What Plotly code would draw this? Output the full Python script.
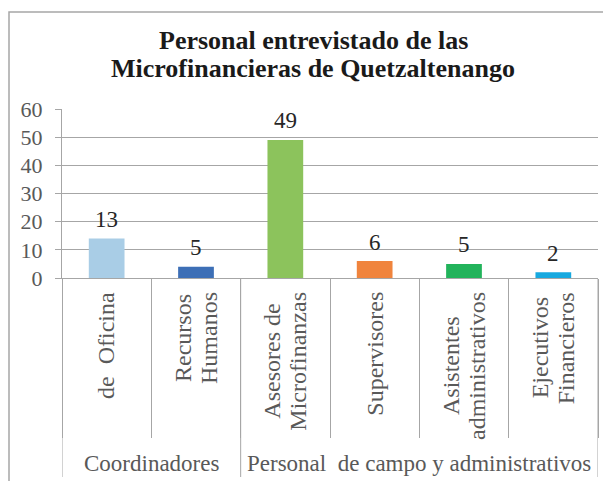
import plotly.graph_objects as go

# ---- data ----
group_names = ["Coordinadores", "Personal\u00a0 de campo y administrativos"]
category_group = [0, 0, 1, 1, 1, 1]
categories = [
    "de\u00a0 Oficina",
    "Recursos<br>Humanos",
    "Asesores de<br>Microfinanzas",
    "Supervisores",
    "Asistentes<br>administrativos",
    "Ejecutivos<br>Financieros",
]
bar_heights = [14, 4, 49, 6, 5, 2]
data_labels = ["13", "5", "49", "6", "5", "2"]
bar_colors = ["#A9CDE6", "#3D6FB6", "#8CC35C", "#F0843D", "#22B35B", "#17A9E0"]
y_ticks = [0, 10, 20, 30, 40, 50, 60]
title_lines = ["Personal entrevistado de las", "Microfinancieras de Quetzaltenango"]

# ---- layout geometry (page body has an 8px margin) ----
OFF = 8
W, H = 611 - OFF, 481 - OFF
PL, PR, PT, PB = 62, 598, 109, 278      # plot area in window pixels
L, T = PL - OFF, PT - OFF
R, B = 611 - PR, 481 - PB
PW, PH = PR - PL, PB - PT


def ppy(py):
    return (PB - py) / PH


def ppx(px):
    return (px - PL) / PW


# approximate Times/Liberation Serif advance widths (per 1000 em)
_TW = dict(a=444, b=500, c=444, d=500, e=444, f=333, g=500, h=500, i=278, j=278,
           k=500, l=278, m=778, n=500, o=500, p=500, q=500, r=333, s=389, t=278,
           u=500, v=500, w=722, x=500, y=500, z=444, A=722, E=611, F=556, H=722,
           M=889, O=722, R=667, S=556, C=667, P=556)


def text_len(s, size):
    return sum(_TW.get(ch, 250) for ch in s) * size / 1000.0


SERIF = "Liberation Serif"
GRID = "#A6A6A6"
TXT = "#595959"
CAT_SIZE = 24
CAT_LINE = 26

xkeys = list(range(len(categories)))

fig = go.Figure(
    go.Bar(
        x=xkeys,
        y=bar_heights,
        marker=dict(color=bar_colors, line=dict(width=0)),
        hoverinfo="skip",
    )
)

fig.update_layout(
    width=W,
    height=H,
    margin=dict(l=L, r=R, t=T, b=B, pad=0, autoexpand=False),
    paper_bgcolor="white",
    plot_bgcolor="white",
    bargap=0.6,
    showlegend=False,
    font=dict(family=SERIF),
)

fig.update_xaxes(
    type="linear",
    range=[-0.5, len(categories) - 0.5],
    tickmode="array",
    tickvals=[i - 0.5 for i in range(len(categories) + 1)],
    showticklabels=False,
    ticks="outside",
    ticklen=159,
    tickcolor=GRID,
    tickwidth=1,
    showline=True,
    linecolor=GRID,
    linewidth=1,
    showgrid=False,
    zeroline=False,
)

fig.update_yaxes(
    range=[0, 60],
    tickvals=y_ticks,
    ticks="outside",
    ticklen=6,
    tickcolor=GRID,
    showline=True,
    linecolor=GRID,
    linewidth=1,
    showgrid=True,
    gridcolor=GRID,
    gridwidth=1,
    zeroline=False,
    tickfont=dict(family=SERIF, size=22, color=TXT),
    ticklabelstandoff=8,
)

shapes = []
# outer chart frame
shapes.append(dict(type="rect", xref="paper", yref="paper",
                   x0=ppx(9), x1=ppx(660), y0=ppy(12), y1=ppy(540),
                   line=dict(color=GRID, width=1.5), layer="below"))
# long group dividers
bounds = [0]
for i in range(1, len(category_group)):
    if category_group[i] != category_group[i - 1]:
        bounds.append(i)
bounds.append(len(category_group))
for b in bounds:
    shapes.append(dict(type="line", xref="x", yref="paper",
                       x0=b - 0.5, x1=b - 0.5, y0=0, y1=ppy(477),
                       line=dict(color=GRID, width=1)))
fig.update_layout(shapes=shapes)

ann = []
# title lines
for line, py in zip(title_lines, [41, 68]):
    ann.append(dict(text="<b>%s</b>" % line, xref="paper", yref="paper",
                    x=ppx(313), y=ppy(py), xanchor="center", yanchor="middle",
                    showarrow=False, font=dict(family=SERIF, size=26, color="#1a1a1a")))
# data labels above bars
for i, (v, lab) in enumerate(zip(bar_heights, data_labels)):
    ann.append(dict(text=lab, xref="x", yref="y", x=i, y=v,
                    xanchor="center", yanchor="middle", yshift=19,
                    showarrow=False, font=dict(family=SERIF, size=23, color="#262626")))
# category labels (rotated, lines centred, tight line spacing)
for i, c in enumerate(categories):
    lines = c.split("<br>")
    n = len(lines)
    longest = max(text_len(s, CAT_SIZE) for s in lines)
    yc = 292 + longest / 2
    for k, s in enumerate(lines):
        ann.append(dict(text=s, xref="x", yref="paper", x=i, y=ppy(yc),
                        xshift=(k - (n - 1) / 2) * CAT_LINE,
                        xanchor="center", yanchor="middle", textangle=-90,
                        showarrow=False, font=dict(family=SERIF, size=CAT_SIZE, color=TXT)))
# group labels
for g, name in enumerate(group_names):
    members = [i for i, cg in enumerate(category_group) if cg == g]
    xc = (members[0] + members[-1]) / 2
    ann.append(dict(text=name, xref="x", yref="paper", x=xc, y=ppy(463),
                    xanchor="center", yanchor="middle", showarrow=False,
                    font=dict(family=SERIF, size=23, color=TXT)))
fig.update_layout(annotations=ann)

fig.write_html("out.html")
